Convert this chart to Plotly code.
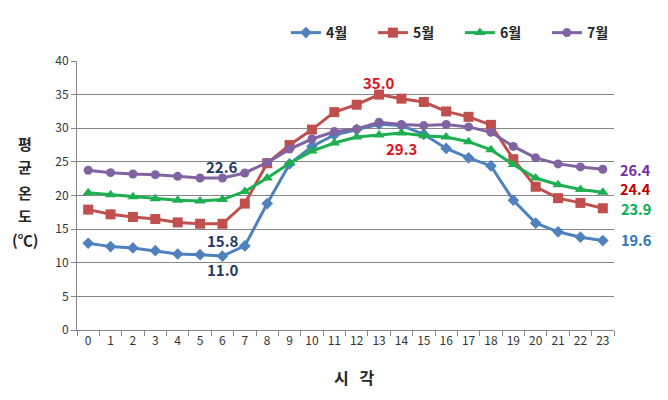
import plotly.graph_objects as go

hours = [str(h) for h in range(24)]
apr = [12.9, 12.4, 12.2, 11.8, 11.3, 11.2, 11.0, 12.5, 18.8, 24.7, 27.3, 29.0,
       29.8, 30.6, 30.4, 29.1, 27.0, 25.6, 24.4, 19.3, 15.9, 14.6, 13.8, 13.3]
may = [17.9, 17.2, 16.8, 16.5, 16.0, 15.8, 15.8, 18.8, 24.8, 27.5, 29.8, 32.4,
       33.5, 35.0, 34.4, 33.9, 32.5, 31.7, 30.5, 25.4, 21.3, 19.6, 18.9, 18.1]
jun = [20.4, 20.1, 19.8, 19.5, 19.3, 19.2, 19.4, 20.6, 22.6, 24.8, 26.6, 27.8,
       28.7, 29.0, 29.3, 28.9, 28.7, 28.0, 26.8, 24.6, 22.6, 21.6, 20.9, 20.5]
jul = [23.75, 23.4, 23.2, 23.1, 22.85, 22.6, 22.6, 23.35, 24.9, 26.9, 28.4, 29.5,
       29.9, 30.9, 30.55, 30.4, 30.55, 30.2, 29.4, 27.3, 25.6, 24.7, 24.25, 23.9]
series_names = ["4월", "5월", "6월", "7월"]
daily_means = ["19.6", "24.4", "23.9", "26.4"]
y_ticks = [0, 5, 10, 15, 20, 25, 30, 35, 40]

colors = ["#4F81BD", "#C0504D", "#1DAF50", "#8064A2"]
symbols = ["diamond", "square", "triangle-up", "circle"]
sizes = [9, 10, 10, 9]

fig = go.Figure()
for name, vals, c, s, sz in zip(series_names, [apr, may, jun, jul], colors, symbols, sizes):
    fig.add_trace(go.Scatter(
        x=hours, y=vals, name="<b>" + name + "</b>", mode="lines+markers",
        line=dict(color=c, width=3),
        marker=dict(symbol=s, size=sz, color=c),
    ))

KFONT = "Noto Sans CJK KR"
navy = "#1F3864"
red_lbl = "#E0101C"
annots = []
# min / max labels tied to data points
annots.append(dict(x=hours[6], y=jul[6], text="<b>22.6</b>", showarrow=False,
                   xshift=0, yshift=12, font=dict(color=navy, size=15, family=KFONT)))
annots.append(dict(x=hours[6], y=may[6], text="<b>15.8</b>", showarrow=False,
                   xshift=1, yshift=-17, font=dict(color=navy, size=15, family=KFONT)))
annots.append(dict(x=hours[6], y=apr[6], text="<b>11.0</b>", showarrow=False,
                   xshift=1, yshift=-13, font=dict(color=navy, size=15, family=KFONT)))
annots.append(dict(x=hours[13], y=may[13], text="<b>35.0</b>", showarrow=False,
                   xshift=0, yshift=12, font=dict(color=red_lbl, size=15, family=KFONT)))
annots.append(dict(x=hours[14], y=jun[14], text="<b>29.3</b>", showarrow=False,
                   xshift=0, yshift=-16, font=dict(color=red_lbl, size=15, family=KFONT)))
# daily mean labels on the right
right_y = [13.4, 21.0, 18.1, 23.85]
right_col = ["#2E75B6", "#C00000", "#00B050", "#7030A0"]
for txt, yy, cc in zip(daily_means, right_y, right_col):
    annots.append(dict(x=hours[23], y=yy, text="<b>" + txt + "</b>", showarrow=False,
                       xshift=33, font=dict(color=cc, size=14.5, family=KFONT)))
# y-axis title stacked
ychars = ["평", "균", "온", "도", "(℃)"]
ypos = [0.695, 0.606, 0.513, 0.424, 0.336]
for ch, yy in zip(ychars, ypos):
    annots.append(dict(xref="paper", yref="paper", x=-0.097, y=yy,
                       text="<b>" + ch + "</b>", showarrow=False, xanchor="center",
                       yanchor="middle",
                       font=dict(color="#262626", size=15, family=KFONT)))
annots.append(dict(xref="paper", yref="paper", x=0.517, y=-0.174, text="<b>시   각</b>",
                   showarrow=False, xanchor="center", yanchor="middle",
                   font=dict(color="#262626", size=16, family=KFONT)))

fig.update_layout(
    width=660, height=392,
    margin=dict(l=69, r=54, t=53, b=70, autoexpand=False),
    paper_bgcolor="white", plot_bgcolor="white",
    font=dict(family=KFONT, size=12, color="#333333"),
    showlegend=True,
    legend=dict(orientation="h", x=0.389, y=1.104, xanchor="left", yanchor="middle",
                entrywidth=42, entrywidthmode="pixels", itemwidth=30,
                font=dict(size=14, color="#262626", family=KFONT),
                bgcolor="rgba(0,0,0,0)"),
    annotations=annots,
    xaxis=dict(type="category", showgrid=False, showline=True, linecolor="#868686",
               linewidth=1, ticks="outside", tickson="boundaries", ticklen=5,
               tickcolor="#868686", tickfont=dict(size=12, color="#333333"),
               tickangle=0, range=[-0.5, 23.5], automargin=False),
    yaxis=dict(range=[0, 40], tickvals=y_ticks, showgrid=True, gridcolor="#868686",
               gridwidth=1, showline=True, linecolor="#868686", linewidth=1,
               ticks="outside", ticklen=5, tickcolor="#868686", zeroline=False,
               tickfont=dict(size=12, color="#333333"), automargin=False),
)
fig.write_html("out.html")
